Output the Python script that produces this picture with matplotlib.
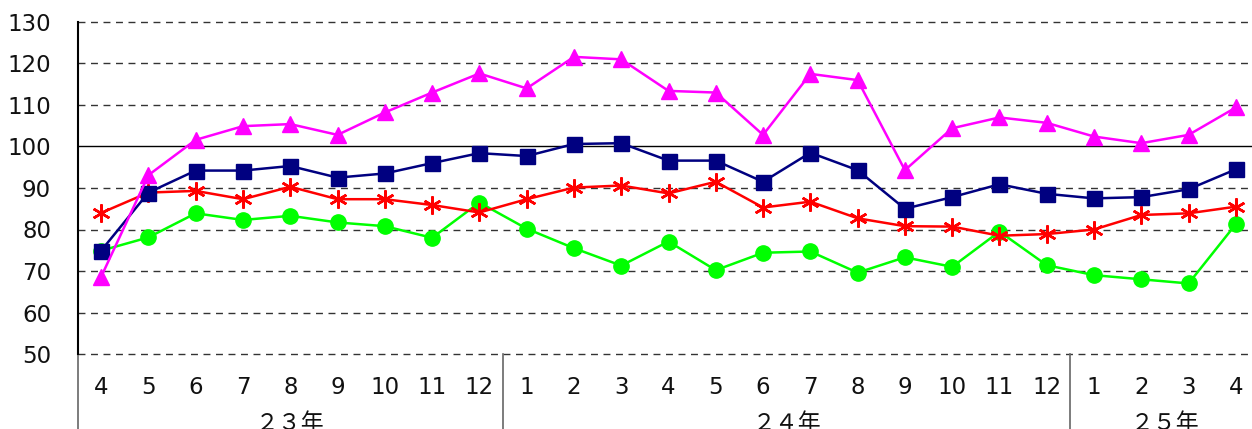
import matplotlib
matplotlib.use("Agg")
import matplotlib.pyplot as plt
from matplotlib.lines import Line2D

months = ["4", "5", "6", "7", "8", "9", "10", "11", "12",
          "1", "2", "3", "4", "5", "6", "7", "8", "9", "10", "11", "12",
          "1", "2", "3", "4"]
years = ["２３年", "２４年", "２５年"]
year_spans = [(0, 8), (9, 20), (21, 24)]

magenta_vals = [68.6, 93.1, 101.6, 104.9, 105.4, 102.8, 108.2, 113.0, 117.6,
                114.0, 121.6, 121.0, 113.4, 113.0, 102.8, 117.5, 116.0, 94.3,
                104.4, 107.0, 105.7, 102.4, 100.8, 102.8, 109.4]
navy_vals = [74.9, 88.9, 94.2, 94.2, 95.3, 92.5, 93.5, 96.0, 98.4,
             97.7, 100.6, 100.8, 96.6, 96.6, 91.5, 98.5, 94.3, 85.0,
             87.8, 90.9, 88.6, 87.5, 87.8, 89.7, 94.5]
red_vals = [84.0, 88.9, 89.3, 87.3, 90.3, 87.3, 87.3, 85.9, 84.1,
            87.3, 90.1, 90.6, 88.7, 91.5, 85.3, 86.7, 82.7, 80.8,
            80.7, 78.5, 78.9, 80.0, 83.5, 83.9, 85.5]
green_vals = [74.9, 78.1, 83.9, 82.3, 83.3, 81.7, 80.8, 78.0, 86.5,
              80.2, 75.5, 71.3, 77.1, 70.2, 74.4, 74.7, 69.6, 73.3,
              71.0, 79.5, 71.4, 69.0, 68.0, 67.0, 81.3]
yticks = [50, 60, 70, 80, 90, 100, 110, 120, 130]

plt.rcParams['font.family'] = ['Noto Sans CJK JP', 'DejaVu Sans']
num_font = ['DejaVu Sans']

W, H = 1252, 429
fig = plt.figure(figsize=(W / 100, H / 100), dpi=100)
left_px, right_px, top_px, bot_px = 77.5, 1259.5, 22, 354
ax = fig.add_axes([left_px / W, (H - bot_px) / H, (right_px - left_px) / W, (bot_px - top_px) / H])

n = len(months)
x = list(range(n))
ax.set_xlim(-0.5, n - 0.5)
ax.set_ylim(50, 130)

for v in yticks:
    if v == 100:
        ax.axhline(v, color='black', lw=1.0, zorder=1)
    else:
        ax.axhline(v, color='#333333', lw=1.0, ls=(0, (5, 4)), zorder=1, clip_on=False)

star = (6, 2, 0)
ax.plot(x, green_vals, color='#00FF00', lw=1.8, marker='o', ms=11, zorder=3)
ax.plot(x, red_vals, color='#FF0000', lw=1.8, marker=star, ms=13, mew=1.8, zorder=4)
ax.plot(x, navy_vals, color='#000080', lw=1.8, marker='s', ms=10.8, zorder=5)
ax.plot(x, magenta_vals, color='#FF00FF', lw=1.8, marker='^', ms=12, zorder=6)

for s in ['top', 'right', 'bottom']:
    ax.spines[s].set_visible(False)
ax.spines['left'].set_color('black')
ax.spines['left'].set_linewidth(1.5)

ax.set_yticks(yticks)
ax.set_yticklabels([str(v) for v in yticks], fontsize=16.5, color='#111111', family=num_font)
ax.tick_params(axis='y', length=0, pad=19)
ax.set_xticks(x)
ax.set_xticklabels(months, fontsize=16.5, color='#111111', family=num_font)
ax.tick_params(axis='x', length=0, pad=16)

# separators below the axis
trans = ax.get_xaxis_transform()
for pos in [-0.5, 8.5, 20.5]:
    ax.add_line(Line2D([pos, pos], [0, -0.3], transform=trans, color='#666666', lw=1.2, clip_on=False))

for label, (a, b) in zip(years, year_spans):
    ax.text((a + b) / 2, -0.21, label, transform=trans, ha='center', va='center',
            fontsize=16.5, color='#111111', clip_on=False)

fig.savefig('out.png', dpi=100)
